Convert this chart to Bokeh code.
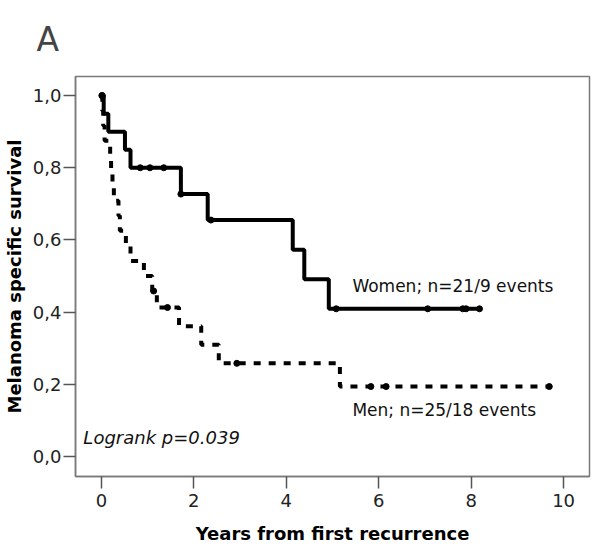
from bokeh.plotting import figure
from bokeh.models import Range1d, FixedTicker, CustomJSTickFormatter, Label
from bokeh.embed import file_html
from bokeh.resources import INLINE

# ---- data ----
women_t = [0.0, 0.05, 0.15, 0.51, 0.63, 1.72, 2.30, 4.14, 4.39, 4.92, 8.18]
women_s = [1.0, 0.95, 0.90, 0.85, 0.80, 0.727, 0.655, 0.573, 0.491, 0.409, 0.409]
women_cens_t = [0.02, 0.84, 1.05, 1.35, 1.72, 2.37, 5.08, 7.06, 7.82, 7.89, 8.18]
women_cens_s = [1.0, 0.80, 0.80, 0.80, 0.727, 0.655, 0.409, 0.409, 0.409, 0.409, 0.409]

men_t = [0.0, 0.02, 0.04, 0.07, 0.19, 0.21, 0.24, 0.27, 0.37, 0.40, 0.53, 0.63,
         0.92, 1.10, 1.20, 1.68, 2.16, 2.54, 5.16, 9.69]
men_s = [1.0, 0.9583, 0.9167, 0.875, 0.8333, 0.7917, 0.75, 0.7083, 0.6667, 0.625,
         0.5833, 0.5417, 0.5, 0.4583, 0.4125, 0.3609, 0.3094, 0.2578, 0.1934, 0.1934]
men_cens_t = [0.01, 1.13, 1.43, 2.93, 5.83, 6.16, 9.69]
men_cens_s = [1.0, 0.4583, 0.4125, 0.2578, 0.1934, 0.1934, 0.1934]

x_ticks = [0, 2, 4, 6, 8, 10]
y_ticks = [0.0, 0.2, 0.4, 0.6, 0.8, 1.0]

panel_label = "A"
women_label = "Women; n=21/9 events"
men_label = "Men; n=25/18 events"
logrank_label = "Logrank p=0.039"

FONT = "DejaVu Sans"
GRAY = "#7a7a7a"

p = figure(frame_width=514, frame_height=400, output_backend="svg", toolbar_location=None,
           x_range=Range1d(-0.56, 10.56), y_range=Range1d(-0.056, 1.053),
           min_border_left=68, min_border_right=2, min_border_top=76, min_border_bottom=58)

p.title.text = panel_label
p.title.text_font = FONT
p.title.text_font_size = "33px"
p.title.text_font_style = "normal"
p.title.offset = -39
p.title.standoff = 32
p.title.vertical_align = "top"

p.xgrid.visible = False
p.ygrid.visible = False
p.outline_line_color = GRAY
p.outline_line_width = 1.5
p.background_fill_color = "white"
p.border_fill_color = "white"

for ax in (p.xaxis[0], p.yaxis[0]):
    ax.axis_line_color = GRAY
    ax.axis_line_width = 1.5
    ax.major_tick_line_color = "#555555"
    ax.major_tick_line_width = 1.5
    ax.major_tick_out = 12
    ax.major_tick_in = 0
    ax.minor_tick_line_color = None
    ax.major_label_text_font = FONT
    ax.major_label_text_font_size = "18px"
    ax.major_label_text_color = "#222222"
    ax.axis_label_text_font = FONT
    ax.axis_label_text_font_size = "18px"
    ax.axis_label_text_font_style = "bold"
    ax.axis_label_text_color = "black"

p.xaxis.ticker = FixedTicker(ticks=x_ticks)
p.yaxis.ticker = FixedTicker(ticks=y_ticks)
p.yaxis.formatter = CustomJSTickFormatter(code="return tick.toFixed(1).replace('.', ',');")
p.xaxis.axis_label = "Years from first recurrence"
p.yaxis.axis_label = "Melanoma specific survival"
p.xaxis.major_label_standoff = 5
p.yaxis.major_label_standoff = 2
p.xaxis.axis_label_standoff = 13
p.yaxis.axis_label_standoff = 5

p.step(women_t, women_s, mode="after", line_color="black", line_width=4)
p.step(men_t, men_s, mode="after", line_color="black", line_width=4,
       line_dash="7 8")
p.scatter(women_cens_t, women_cens_s, size=6, color="black")
p.scatter(men_cens_t, men_cens_s, size=6, color="black")

p.add_layout(Label(x=5.43, y=0.473, text=women_label, text_font=FONT,
                   text_font_size="17px", text_baseline="middle", text_color="#111111"))
p.add_layout(Label(x=5.43, y=0.127, text=men_label, text_font=FONT,
                   text_font_size="17px", text_baseline="middle", text_color="#111111"))
p.add_layout(Label(x=-0.39, y=0.052, text=logrank_label, text_font=FONT,
                   text_font_size="18px", text_font_style="italic",
                   text_baseline="middle", text_color="#111111"))

open("out.html", "w").write(file_html(p, INLINE))
